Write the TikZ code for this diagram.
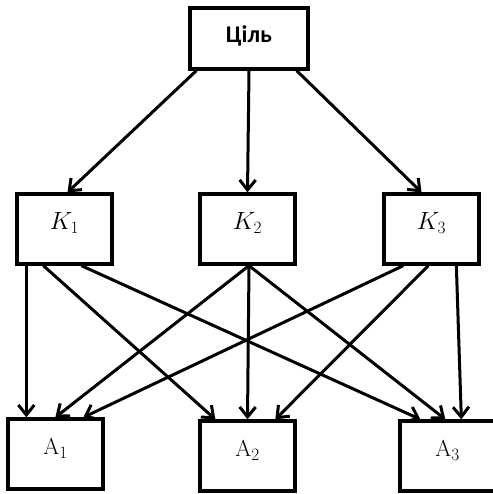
\documentclass[tikz,border=0pt]{standalone}
\usepackage{fontspec}
\newfontfamily\headfont{Carlito}
\usetikzlibrary{arrows.meta,shadows}
\tikzset{
  box/.style={draw=black, line width=3.3pt, fill=white, inner sep=0pt,
    minimum width=95pt, minimum height=70pt,
    drop shadow={shadow xshift=2pt, shadow yshift=-2pt, fill=black, opacity=0.3}},
  goalbox/.style={box, minimum width=118pt, minimum height=61pt},
  lbl/.style={inner sep=0pt, font=\fontsize{23}{27}\selectfont},
  link/.style={line width=3pt, -{Straight Barb[length=10pt,width=16pt,line width=3pt]}}
}
\begin{document}
\begin{tikzpicture}[x=1pt, y=-1pt]
  \useasboundingbox[fill=white] (0,0) rectangle (492,494);

  % goal
  \node[goalbox] (goal) at (249,38.5) {};
  \node[lbl, font=\fontsize{24}{28}\selectfont] (goalt) at ([yshift=3pt]goal.center) {\headfont\bfseries Ціль};

  % criteria
  \node[box] (k1) at (64.5,229) {};
  \node[box] (k2) at (247.5,229) {};
  \node[box] (k3) at (431.5,229) {};
  \node[lbl] (k1t) at ([yshift=6pt]k1.center) {$K_1$};
  \node[lbl] (k2t) at ([yshift=6pt]k2.center) {$K_2$};
  \node[lbl] (k3t) at ([yshift=6pt]k3.center) {$K_3$};

  % alternatives
  \node[box] (a1) at (55.5,454) {};
  \node[box] (a2) at (247.5,456) {};
  \node[box] (a3) at (447.5,456) {};
  \node[lbl] (a1t) at ([yshift=6pt]a1.center) {$\mathrm{A}_1$};
  \node[lbl] (a2t) at ([yshift=6pt]a2.center) {$\mathrm{A}_2$};
  \node[lbl] (a3t) at ([yshift=6pt]a3.center) {$\mathrm{A}_3$};

  % goal -> criteria
  \draw[link] ([xshift=8pt]goal.south west) -- ([xshift=3pt]k1.north);
  \draw[link] (goal.south) -- (k2.north);
  \draw[link] ([xshift=-13pt]goal.south east) -- ([xshift=-10pt]k3.north);

  % criteria -> alternatives
  \draw[link] ([xshift=11pt]k1.south west) -- ([xshift=20pt]a1.north west);
  \draw[link] ([xshift=28pt]k1.south west) -- ([xshift=17pt]a2.north west);
  \draw[link] ([xshift=66pt]k1.south west) -- ([xshift=22pt]a3.north west);

  \draw[link] ([xshift=1.5pt]k2.south) -- ([xshift=49pt]a1.north west);
  \draw[link] ([xshift=1.5pt]k2.south) -- (a2.north);
  \draw[link] ([xshift=1.5pt]k2.south) -- ([xshift=47pt]a3.north west);

  \draw[link] ([xshift=21pt]k3.south west) -- ([xshift=77pt]a1.north west);
  \draw[link] ([xshift=46pt]k3.south west) -- ([xshift=77pt]a2.north west);
  \draw[link] ([xshift=74pt]k3.south west) -- ([xshift=63pt]a3.north west);
\end{tikzpicture}
\end{document}
